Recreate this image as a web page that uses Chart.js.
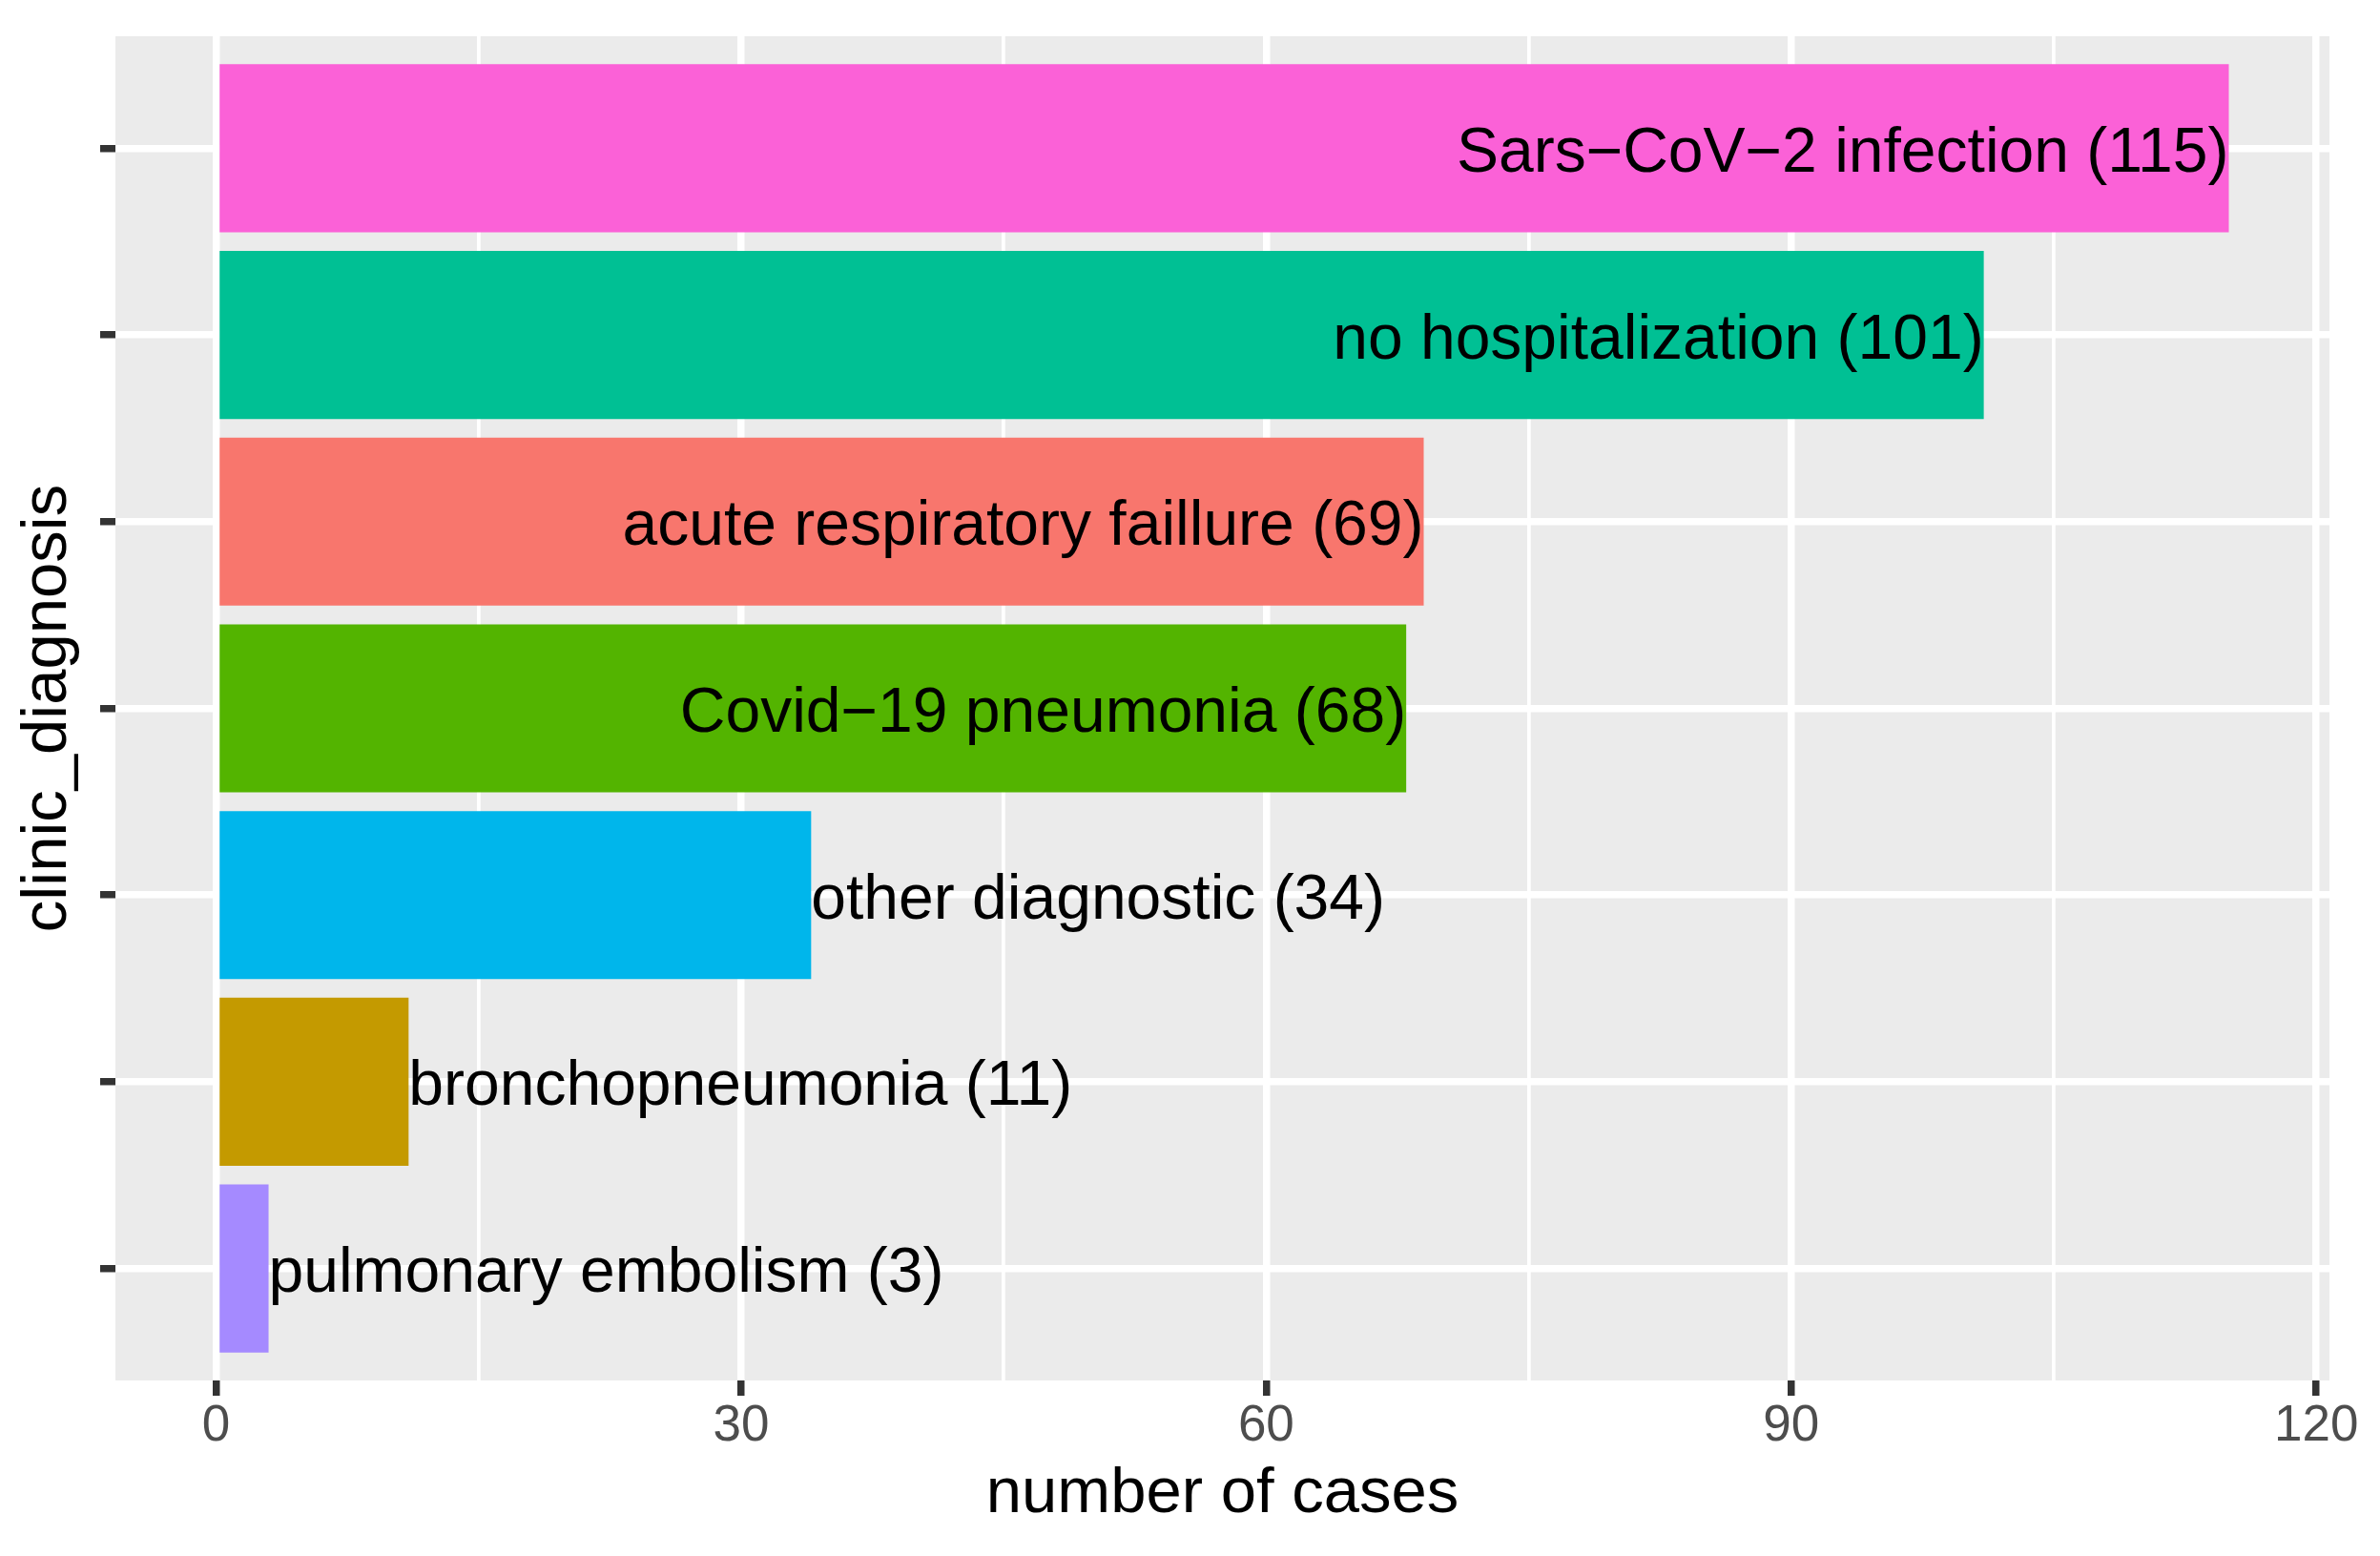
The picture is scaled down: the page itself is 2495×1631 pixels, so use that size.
<!DOCTYPE html>
<html><head><meta charset="utf-8">
<script src="https://cdn.jsdelivr.net/npm/chart.js@4/dist/chart.umd.min.js"></script>
<style>html,body{margin:0;padding:0;background:#fff;} canvas{display:block;}</style>
</head><body>
<canvas id="c" width="2495" height="1631"></canvas>
<script>
const categories = ["Sars\u2212CoV\u22122 infection","no hospitalization","acute respiratory faillure","Covid\u221219 pneumonia","other diagnostic","bronchopneumonia","pulmonary embolism"];
const cases = [115,101,69,68,34,11,3];
const barColors = ["#FB61D7","#00C094","#F8766D","#53B400","#00B6EB","#C49A00","#A58AFF"];
const xMajorTicks = [0,30,60,90,120];
const xMinorTicks = [15,45,75,105];
const xTickLabels = ["0","30","60","90","120"];

const FONT = "'Liberation Sans', Arial, Helvetica, sans-serif";

const panelBg = {
  id: 'panelBg',
  beforeDraw(chart) {
    const {ctx, chartArea: a} = chart;
    ctx.save();
    ctx.fillStyle = '#EBEBEB';
    ctx.fillRect(a.left, a.top, a.right - a.left, a.bottom - a.top);
    ctx.restore();
  }
};

const barLabels = {
  id: 'barLabels',
  afterDatasetsDraw(chart) {
    const {ctx} = chart;
    const meta = chart.getDatasetMeta(0);
    const size = 66;
    ctx.save();
    ctx.font = size + "px " + FONT;
    ctx.fillStyle = '#000000';
    ctx.textBaseline = 'alphabetic';
    meta.data.forEach((bar, i) => {
      const txt = categories[i] + ' (' + cases[i] + ')';
      ctx.textAlign = cases[i] > 50 ? 'right' : 'left';
      ctx.fillText(txt, bar.x, bar.y + size * 0.37);
    });
    ctx.restore();
  }
};

new Chart(document.getElementById('c'), {
  type: 'bar',
  data: {
    datasets: [{
      data: cases.map((v, i) => ({x: v, y: i + 1})),
      backgroundColor: barColors,
      borderWidth: 0,
      barPercentage: 0.9,
      categoryPercentage: 1.0
    }]
  },
  options: {
    indexAxis: 'y',
    responsive: false,
    devicePixelRatio: 1,
    animation: false,
    layout: {padding: {top: 38, right: 53, bottom: 0, left: 0}},
    plugins: {legend: {display: false}, tooltip: {enabled: false}},
    scales: {
      x: {
        type: 'linear',
        position: 'bottom',
        offset: false,
        min: -5.75,
        max: 120.75,
        afterBuildTicks(scale) {
          scale.ticks = xMajorTicks.concat(xMinorTicks).sort((a, b) => a - b).map(v => ({value: v}));
        },
        afterFit(scale) { scale.height = 184; },
        ticks: {
          autoSkip: false, maxRotation: 0, minRotation: 0,
          padding: 1,
          color: '#4D4D4D',
          font: {family: FONT, size: 53},
          callback(value) {
            const k = xMajorTicks.indexOf(value);
            return k >= 0 ? xTickLabels[k] : '';
          }
        },
        grid: {
          offset: false,
          color: '#FFFFFF',
          lineWidth: c => xMajorTicks.includes(c.tick.value) ? 7.5 : 3.75,
          tickColor: c => xMajorTicks.includes(c.tick.value) ? '#333333' : 'rgba(0,0,0,0)',
          tickWidth: 7.5,
          tickLength: 16
        },
        border: {display: false},
        title: {
          display: true,
          text: 'number of cases',
          color: '#000000',
          font: {family: FONT, size: 67},
          padding: {top: 0, bottom: 24}
        }
      },
      y: {
        type: 'linear',
        position: 'left',
        offset: false,
        reverse: true,
        min: 0.4,
        max: 7.6,
        afterBuildTicks(scale) {
          scale.ticks = categories.map((c, i) => ({value: i + 1}));
        },
        afterFit(scale) { scale.width = 121; },
        ticks: {autoSkip: false, padding: 0, font: {family: FONT, size: 53}, callback() { return ''; }},
        grid: {
          offset: false,
          color: '#FFFFFF',
          lineWidth: 7.5,
          tickColor: '#333333',
          tickWidth: 7.5,
          tickLength: 16
        },
        border: {display: false},
        title: {
          display: true,
          text: 'clinic_diagnosis',
          color: '#000000',
          font: {family: FONT, size: 67},
          padding: {top: 10, bottom: 0}
        }
      }
    }
  },
  plugins: [panelBg, barLabels]
});
</script>
</body></html>
